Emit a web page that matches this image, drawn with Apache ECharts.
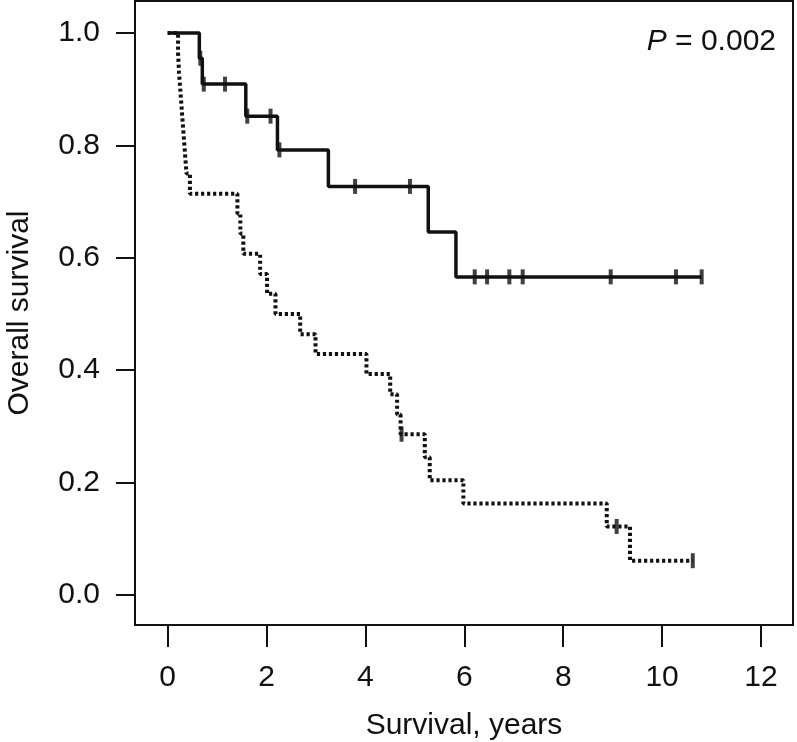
<!DOCTYPE html>
<html>
<head>
<meta charset="utf-8">
<script src="https://cdn.jsdelivr.net/npm/echarts@6/dist/echarts.min.js"></script>
<style>
html,body{margin:0;padding:0;background:#fff;}
#chart{width:797px;height:742px;}
</style>
</head>
<body>
<div id="chart"></div>
<script>
// Group 1 (solid): event times and survival after each event
const timesA = [0, 0.64, 0.70, 1.58, 2.22, 3.25, 5.27, 5.83, 10.80];
const survA  = [1.0, 0.955, 0.909, 0.852, 0.792, 0.727, 0.646, 0.566, 0.566];
const censorA = [0.66, 0.73, 1.16, 1.61, 2.08, 2.26, 3.79, 4.90, 6.21, 6.46, 6.91, 7.18, 8.96, 10.28, 10.80];

// Group 2 (dotted)
const timesB = [0, 0.21, 0.23, 0.26, 0.29, 0.32, 0.35, 0.38, 0.45, 1.41, 1.47, 1.53, 1.87, 2.01, 2.18, 2.68, 2.99, 4.02, 4.50, 4.64, 4.71, 5.20, 5.30, 5.98, 8.88, 9.35, 10.62];
const survB  = [1.0, 0.964, 0.929, 0.893, 0.857, 0.821, 0.786, 0.75, 0.714, 0.679, 0.643, 0.607, 0.571, 0.536, 0.5, 0.464, 0.429, 0.393, 0.357, 0.321, 0.286, 0.245, 0.204, 0.163, 0.122, 0.061, 0.061];
const censorB = [4.73, 9.08, 10.62];

const xTicks = [0, 2, 4, 6, 8, 10, 12];
const yTicks = [0, 0.2, 0.4, 0.6, 0.8, 1.0];
const xTitle = 'Survival, years';
const yTitle = 'Overall survival';
const pLabel = '0.002';

function stepAt(times, surv, t) {
  let v = surv[0];
  for (let i = 0; i < times.length; i++) { if (times[i] <= t) v = surv[i]; }
  return v;
}
const lineA = timesA.map((t, i) => [t, survA[i]]);
const lineB = timesB.map((t, i) => [t, survB[i]]);
const censA = censorA.map(t => [t, stepAt(timesA, survA, t)]);
const censB = censorB.map(t => [t, stepAt(timesB, survB, t)]);

const FONT = 'Liberation Sans, Arial, Helvetica, sans-serif';
const INK = '#111111';

const chart = echarts.init(document.getElementById('chart'), null, {renderer: 'canvas'});
chart.setOption({
  animation: false,
  backgroundColor: '#fff',
  title: {
    text: '{i|P} = ' + pLabel,
    right: 16, top: 22,
    textStyle: {
      fontFamily: FONT, fontSize: 30, fontWeight: 'normal', color: INK,
      rich: { i: { fontStyle: 'italic', fontFamily: FONT, fontSize: 30, color: INK } }
    }
  },
  grid: {
    left: 135, top: 1, width: 658, height: 624,
    outerBoundsMode: 'none', containLabel: false,
    show: true, borderColor: INK, borderWidth: 2, backgroundColor: 'transparent'
  },
  xAxis: {
    type: 'value', min: -0.661, max: 12.647,
    name: xTitle, nameLocation: 'middle', nameGap: 86,
    nameTextStyle: { fontFamily: FONT, fontSize: 30, color: INK },
    axisLine: { show: false, onZero: false },
    splitLine: { show: false },
    axisTick: { show: true, inside: false, length: 22, customValues: xTicks, lineStyle: { color: INK, width: 2 } },
    axisLabel: { customValues: xTicks, margin: 38, fontFamily: FONT, fontSize: 30, color: INK }
  },
  yAxis: {
    type: 'value', min: -0.0534, max: 1.0569,
    name: yTitle, nameLocation: 'middle', nameGap: 100,
    nameTextStyle: { fontFamily: FONT, fontSize: 30, color: INK },
    axisLine: { show: false, onZero: false },
    splitLine: { show: false },
    axisTick: { show: true, inside: false, length: 19, customValues: yTicks, lineStyle: { color: INK, width: 2 } },
    axisLabel: { customValues: yTicks, margin: 35, fontFamily: FONT, fontSize: 30, color: INK,
      formatter: v => v.toFixed(1) }
  },
  series: [
    {
      type: 'line', data: lineA, step: 'end', showSymbol: false, symbol: 'none',
      lineStyle: { color: INK, width: 3.5, type: 'solid' }, z: 3
    },
    {
      type: 'line', data: lineB, step: 'end', showSymbol: false, symbol: 'none',
      lineStyle: { color: INK, width: 4, type: [3.2, 2.8] }, z: 2
    },
    {
      type: 'scatter', data: censA, symbol: 'rect', symbolSize: [4, 15],
      itemStyle: { color: INK }, z: 4
    },
    {
      type: 'scatter', data: censB, symbol: 'rect', symbolSize: [4, 15],
      itemStyle: { color: INK }, z: 4
    }
  ]
});
</script>
</body>
</html>
